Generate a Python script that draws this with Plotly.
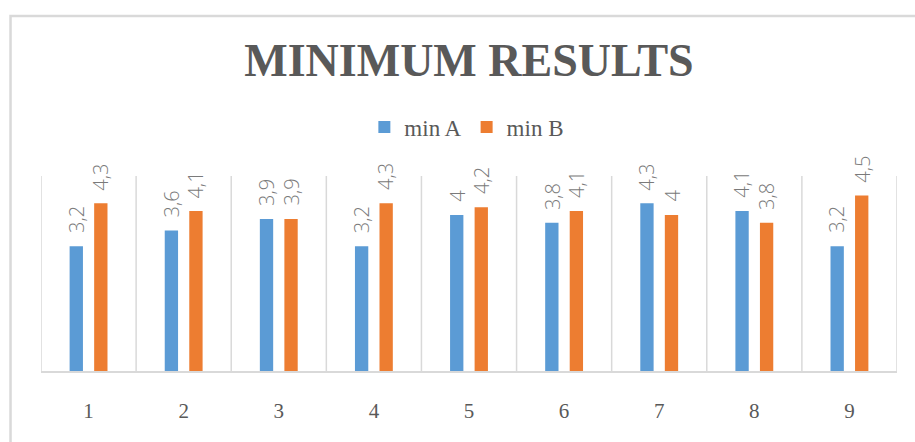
import plotly.graph_objects as go

categories = [1, 2, 3, 4, 5, 6, 7, 8, 9]
tick_labels = ["1", "2", "3", "4", "5", "6", "7", "8", "9"]
min_a = [3.2, 3.6, 3.9, 3.2, 4.0, 3.8, 4.3, 4.1, 3.2]
min_b = [4.3, 4.1, 3.9, 4.3, 4.2, 4.1, 4.0, 3.8, 4.5]
series_names = ["min A", "min B"]
colors = ["#5B9BD5", "#ED7D31"]

GRID = "#D9D9D9"
TEXT = "#595959"

def fmt(v):
    s = ("%g" % v)
    return s.replace(".", ",")

fig = go.Figure()
for name, vals, col in zip(series_names, [min_a, min_b], colors):
    fig.add_trace(go.Bar(
        x=categories, y=vals, name=name,
        marker=dict(color=col, line=dict(width=0)),
        hoverinfo="skip",
    ))

annotations = []
offsets = [-12.3, 12.3]
for vals, dx in zip([min_a, min_b], offsets):
    for c, v in zip(categories, vals):
        annotations.append(dict(
            x=c, y=v, xref="x", yref="y", xshift=dx, yshift=11,
            text=fmt(v), showarrow=False, textangle=-90,
            xanchor="center", yanchor="bottom",
            font=dict(family="Open Sans", size=20, color="#7a7a7a", weight=300),
        ))

shapes = []
# vertical gridlines between categories
for b in [c - 0.5 for c in categories] + [categories[-1] + 0.5]:
    shapes.append(dict(type="line", xref="x", yref="paper", x0=b, x1=b, y0=0, y1=1,
                       line=dict(color=GRID, width=1.5), layer="below"))
# outer chart border
shapes.append(dict(type="rect", xref="paper", yref="paper",
                   x0=-0.0356, x1=1.2, y0=-0.6, y1=1.8205,
                   line=dict(color=GRID, width=2.5), layer="below"))

fig.update_layout(
    width=915, height=442,
    margin=dict(l=41, r=18, t=176, b=71),
    paper_bgcolor="white", plot_bgcolor="white",
    title=dict(text="MINIMUM RESULTS", x=0.5, xref="paper",
               y=1 - 60 / 442, yref="container", yanchor="middle", xanchor="center",
               font=dict(family="Liberation Serif", size=46, color=TEXT, weight="bold")),
    barmode="group", bargap=0.484, bargroupgap=0.457,
    showlegend=True,
    legend=dict(orientation="h", x=0.4975, xanchor="center", y=1.251, yanchor="middle",
                font=dict(family="Liberation Serif", size=23, color=TEXT),
                itemwidth=30, bgcolor="rgba(0,0,0,0)"),
    xaxis=dict(range=[0.5, 9.5], tickmode="array", tickvals=categories, ticktext=tick_labels,
               showgrid=False, zeroline=False, showline=True, linecolor=GRID, linewidth=1.5,
               ticks="", ticklabelstandoff=20,
               tickfont=dict(family="Liberation Serif", size=21, color=TEXT), fixedrange=True),
    yaxis=dict(range=[0, 5], visible=False, showgrid=False, zeroline=False, fixedrange=True),
    annotations=annotations,
    shapes=shapes,
)

fig.write_html("out.html")
